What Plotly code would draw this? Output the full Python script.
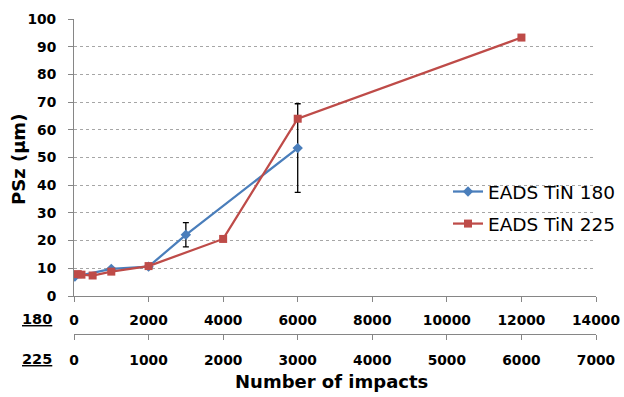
import plotly.graph_objects as go

# EADS TiN 180 (plotted on the 180 impact scale)
impacts_180 = [25, 1000, 2000, 3000, 6000]
psz_180 = [7.0, 9.8, 10.6, 22.1, 53.4]
err_180 = [0, 0, 0, 4.4, 16.0]

# EADS TiN 225 (plotted on the 225 impact scale)
impacts_225 = [50, 100, 250, 500, 1000, 2000, 3000, 6000]
psz_225 = [7.9, 7.7, 7.4, 8.8, 10.8, 20.6, 64.0, 93.3]

x180_ticks = list(range(0, 14001, 2000))
x225_ticks = list(range(0, 7001, 1000))
y_ticks = list(range(0, 101, 10))

W, H = 624, 397
L, R, T, B = 74, 28, 19, 63
plot_w = W - L - R
plot_h = H - T - B
axis_gap = 38  # pixels between the two bottom axis lines

FONT = "DejaVu Sans"
AXIS_GRAY = "#868686"
BLUE = "#4A7EBB"
RED = "#BE4B48"


def px_x(px):
    return (px - L) / plot_w


def px_y(py):
    return (H - B - py) / plot_h


fig = go.Figure()

fig.add_trace(go.Scatter(
    x=impacts_180, y=psz_180, name="EADS TiN 180", xaxis="x", yaxis="y",
    mode="lines+markers", legendgroup="a",
    line=dict(color=BLUE, width=2.25),
    marker=dict(symbol="diamond", size=8, color=BLUE),
    error_y=dict(type="data", array=err_180, visible=True,
                 color="black", thickness=1.3, width=3),
))

fig.add_trace(go.Scatter(
    x=impacts_225, y=psz_225, name="EADS TiN 225", xaxis="x2", yaxis="y",
    mode="lines+markers", legendgroup="b",
    line=dict(color=RED, width=2.25),
    marker=dict(symbol="square", size=8, color=RED),
))

tick_font = dict(family=FONT, size=13.8, color="black", weight="bold")

fig.update_layout(
    width=W, height=H,
    margin=dict(l=L, r=R, t=T, b=B, autoexpand=False),
    paper_bgcolor="white", plot_bgcolor="white",
    font=dict(family=FONT, color="black"),
    xaxis=dict(
        range=[0, 14000], tickvals=x180_ticks,
        ticktext=[str(v) for v in x180_ticks], anchor="y", side="bottom",
        showgrid=False, zeroline=False, showline=True, linecolor=AXIS_GRAY,
        linewidth=1, ticks="outside", ticklen=5, tickcolor=AXIS_GRAY,
        tickfont=tick_font, ticklabelstandoff=6,
    ),
    xaxis2=dict(
        range=[0, 7000], tickvals=x225_ticks,
        ticktext=[str(v) for v in x225_ticks], overlaying="x", anchor="free",
        position=0, side="bottom",
        showgrid=False, zeroline=False, showline=True, linecolor=AXIS_GRAY,
        linewidth=1, ticks="outside", ticklen=5, tickcolor=AXIS_GRAY,
        tickfont=tick_font, ticklabelstandoff=8,
    ),
    yaxis=dict(
        range=[0, 100], tickvals=y_ticks, domain=[axis_gap / plot_h, 1],
        showgrid=True, gridcolor="#A6A6A6", griddash="dot", gridwidth=1,
        zeroline=False, showline=True, linecolor=AXIS_GRAY, linewidth=1,
        ticks="outside", ticklen=5, tickcolor=AXIS_GRAY,
        tickfont=tick_font, ticklabelstandoff=9,
    ),
    legend=dict(
        x=px_x(448), y=px_y(173), xanchor="left", yanchor="top",
        bgcolor="rgba(0,0,0,0)", font=dict(family=FONT, size=18.5),
        tracegroupgap=5,
    ),
    showlegend=True,
)

annotations = [
    dict(text="<b><u>180</u></b>", x=px_x(37), y=px_y(319)),
    dict(text="<b><u>225</u></b>", x=px_x(37), y=px_y(359)),
    dict(text="<b>Number of impacts</b>", x=px_x(331), y=px_y(382), size=18),
    dict(text="<b>PSz (µm)</b>", x=px_x(18), y=px_y(160), size=18, angle=-90),
]
for a in annotations:
    fig.add_annotation(
        text=a["text"], x=a["x"], y=a["y"], xref="paper", yref="paper",
        xanchor="center", yanchor="middle", showarrow=False,
        textangle=a.get("angle", 0),
        font=dict(family=FONT, size=a.get("size", 14.5), color="black"),
    )

fig.write_html("out.html")
